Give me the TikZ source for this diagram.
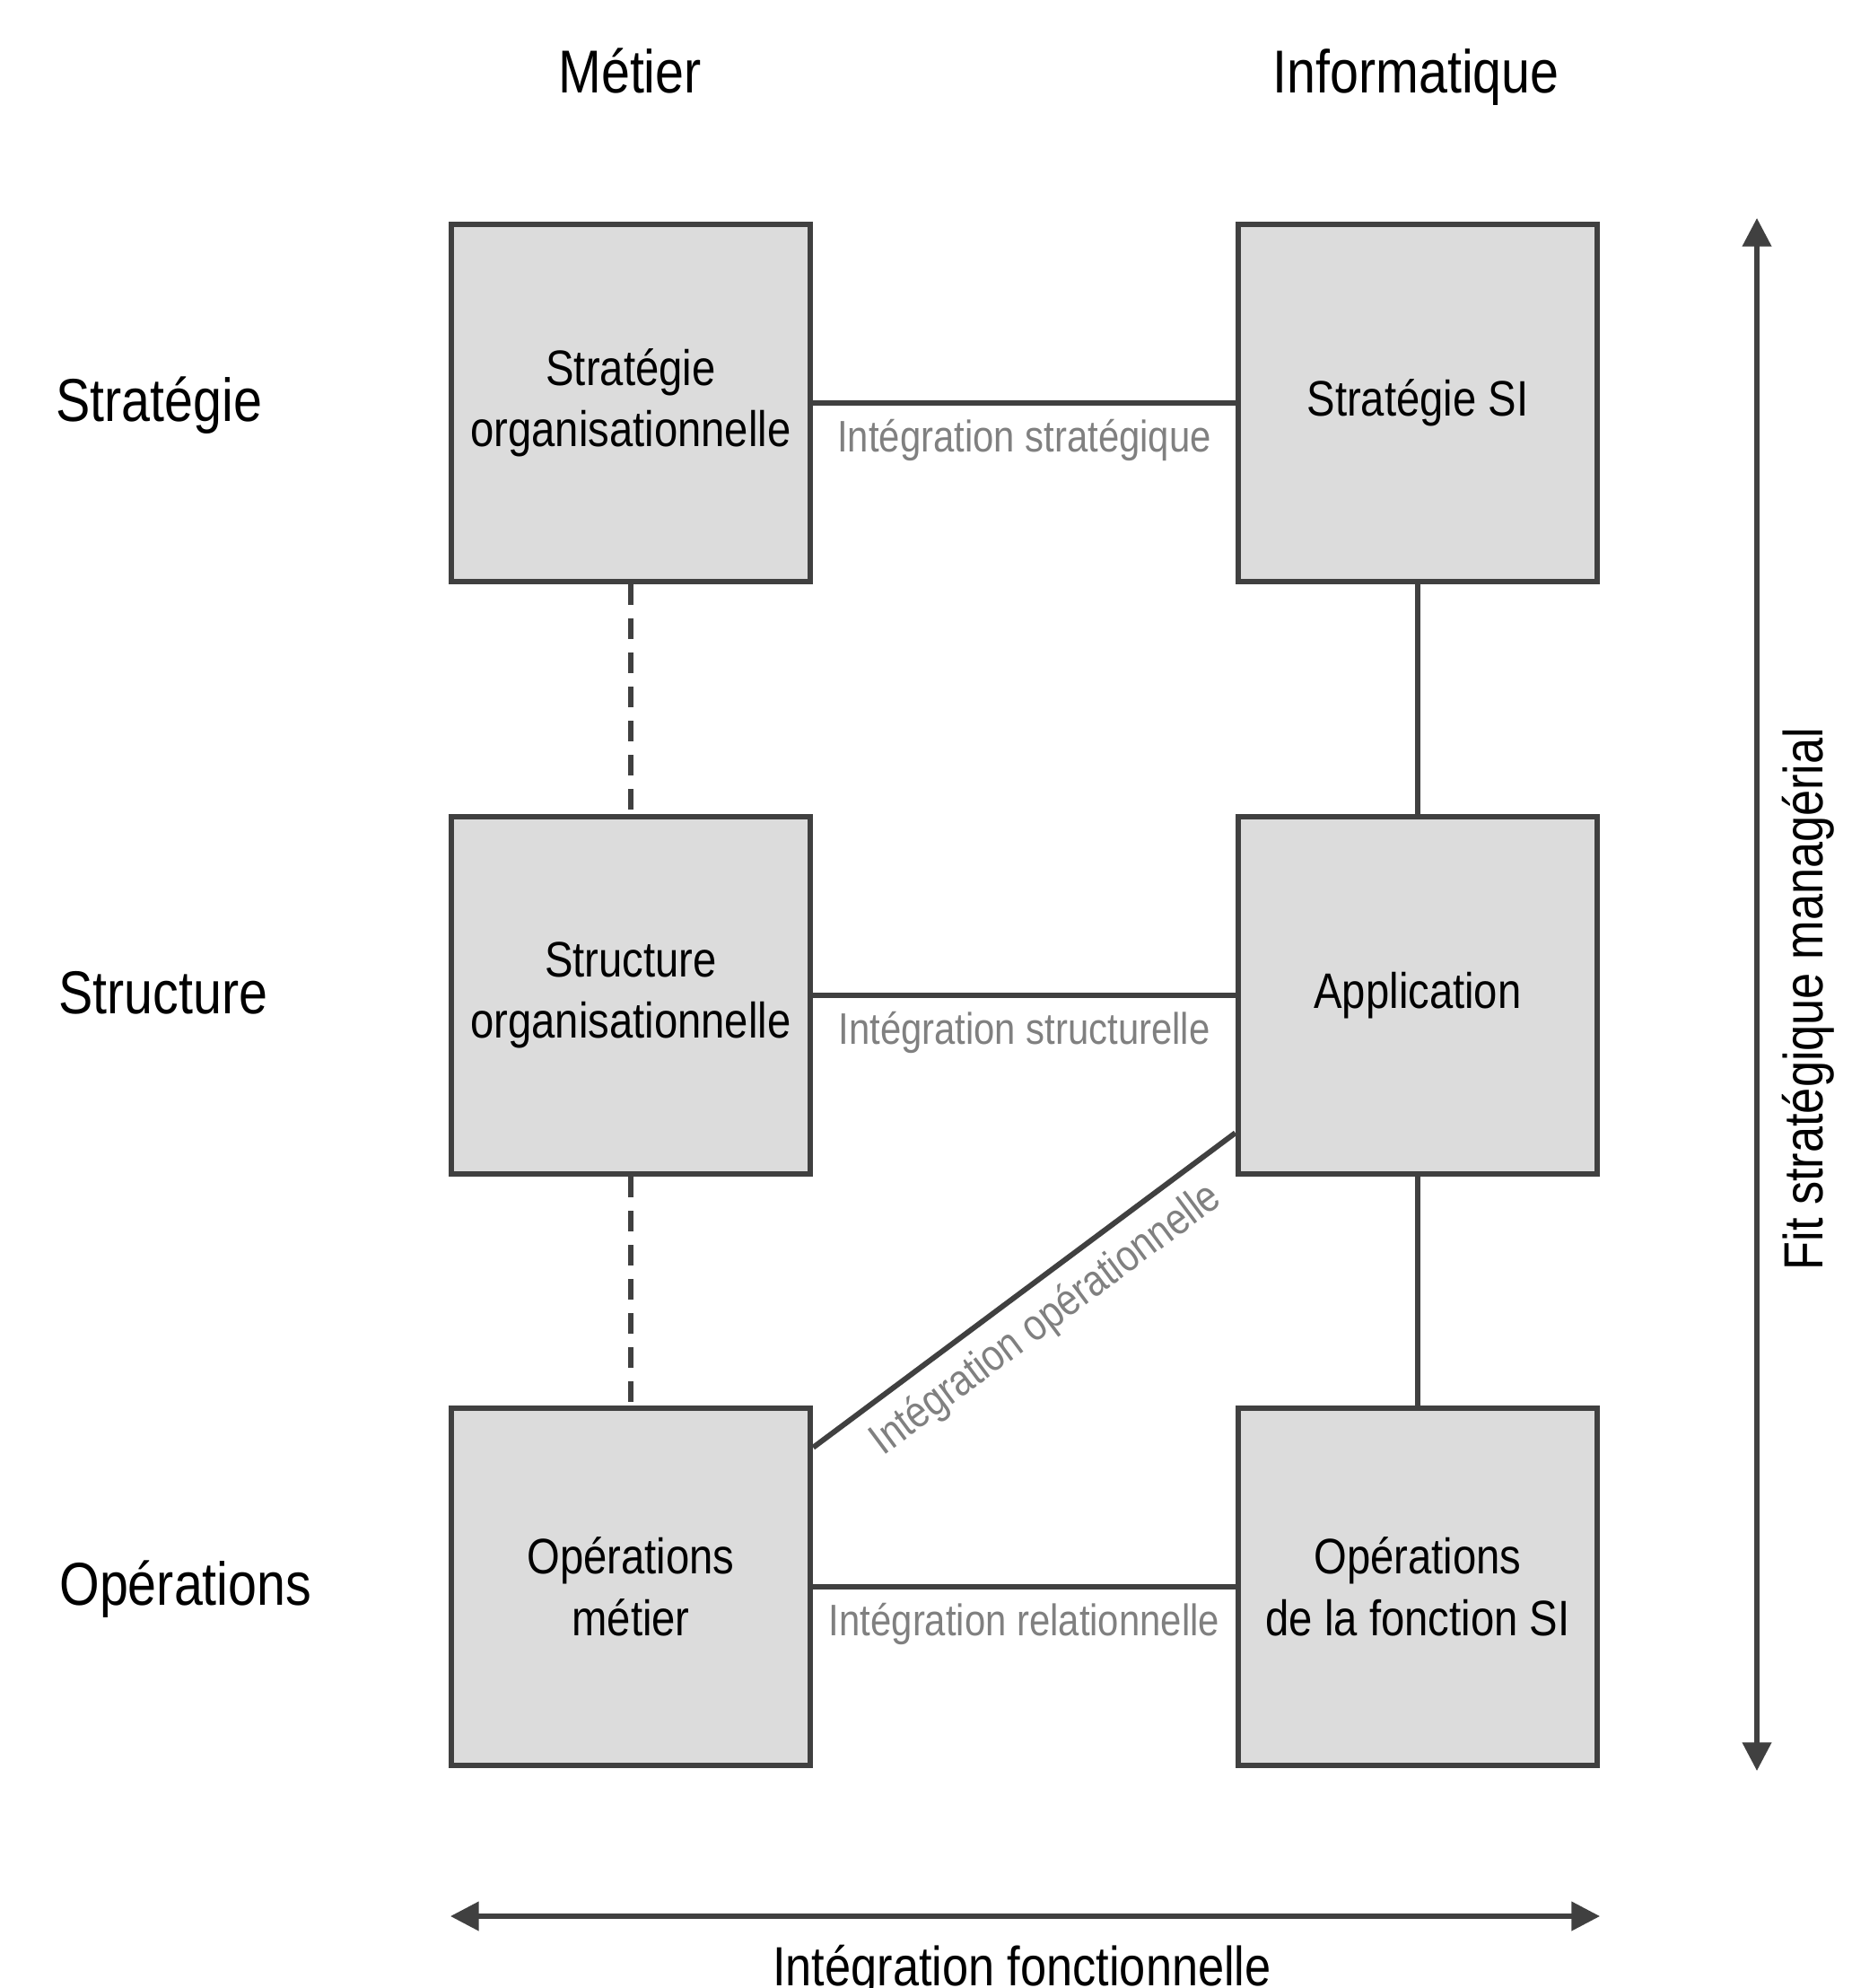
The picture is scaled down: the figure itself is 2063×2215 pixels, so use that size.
\documentclass[tikz,border=0pt]{standalone}
\usepackage{fontspec}
\setmainfont{Liberation Sans}[FakeStretch=0.85]
\usetikzlibrary{arrows.meta,calc}
\definecolor{boxfill}{HTML}{DCDCDC}
\definecolor{edge}{HTML}{404040}
\definecolor{labgray}{HTML}{808080}
\tikzset{
  blk/.style={draw=edge, fill=boxfill, line width=1.8pt, minimum width=4.0cm, minimum height=3.98cm, align=center, font=\fontsize{15.8}{19.5}\selectfont, inner sep=0pt},
  conn/.style={draw=edge, line width=1.7pt},
  dashconn/.style={draw=edge, line width=1.7pt, dash pattern=on 6.5pt off 4.3pt},
  glab/.style={text=labgray, font=\fontsize{14}{16}\selectfont},
  head/.style={font=\fontsize{19.2}{23}\selectfont},
  axis/.style={draw=edge, line width=1.5pt, {Triangle[length=9pt,width=9pt]}-{Triangle[length=9pt,width=9pt]}},
  axlab/.style={font=\fontsize{17.5}{21}\selectfont}
}
\begin{document}
\begin{tikzpicture}[x=0.01cm,y=-0.01cm]
\useasboundingbox (0,0) rectangle (2063,2215);
% headers
\node[head, anchor=base] (hm) at (702,103) {Métier};
\node[head, anchor=base] (hi) at (1578,103) {Informatique};
\node[head, anchor=west] (rs) at (50,452) {Stratégie};
\node[head, anchor=west] (rt) at (53,1106) {Structure};
\node[head, anchor=west] (ro) at (54,1771) {Opérations};
% boxes
\node[blk] (s1) at (703,449) {Stratégie\\organisationnelle};
\node[blk] (s2) at (1580,449) {Stratégie SI};
\node[blk] (t1) at (703,1109) {Structure\\organisationnelle};
\node[blk] (t2) at (1580,1109) {Application};
\node[blk] (o1) at (703,1768) {Opérations\\métier};
\node[blk] (o2) at (1580,1768) {Opérations\\de la fonction SI};
% horizontal connectors
\draw[conn] (s1.east) -- node[glab, midway, below=1pt] (ls) {Intégration stratégique} (s2.west);
\draw[conn] (t1.east) -- node[glab, midway, below=1pt] (lt) {Intégration structurelle} (t2.west);
\draw[conn] (o1.east) -- node[glab, midway, below=1pt] (lo) {Intégration relationnelle} (o2.west);
% vertical connectors
\draw[dashconn] (s1.south) -- (t1.north);
\draw[dashconn] (t1.south) -- (o1.north);
\draw[conn] (s2.south) -- (t2.north);
\draw[conn] (t2.south) -- (o2.north);
% diagonal
\coordinate (d1) at ($(o1.north east)+(0,47)$);
\coordinate (d2) at ($(t2.south west)+(0,-49)$);
\draw[conn] (d1) -- node[glab, midway, sloped, below=1pt] (ld) {Intégration opérationnelle} (d2);
% axes
\coordinate (vt) at (1958,243);
\coordinate (vb) at (1958,1973);
\draw[axis] (vt) -- (vb);
\node[axlab, rotate=90] (lv) at (2015,1113) {Fit stratégique managérial};
\coordinate (hl) at (502,2135);
\coordinate (hr) at (1783,2135);
\draw[axis] (hl) -- (hr);
\node[axlab, anchor=base] (lh) at (1139,2212) {Intégration fonctionnelle};
\end{tikzpicture}
\end{document}
